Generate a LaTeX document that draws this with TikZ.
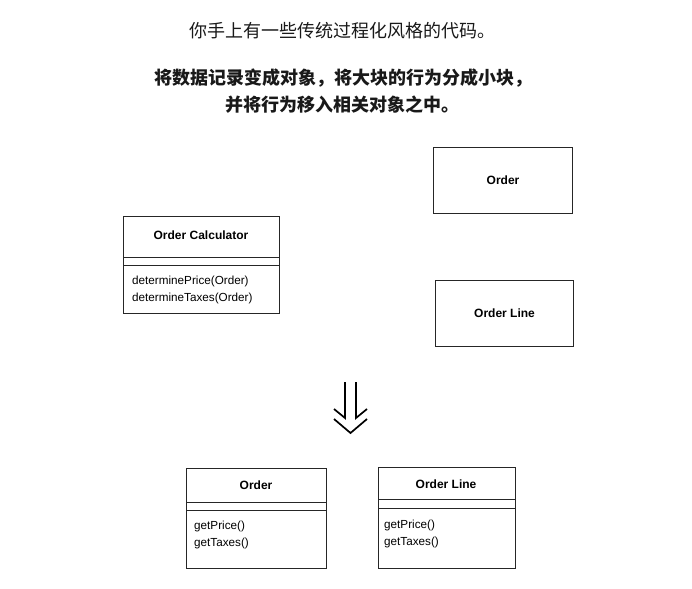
\documentclass[tikz,border=0pt]{standalone}
\usepackage{fontspec}
\setmainfont{Liberation Sans}
\newfontfamily\cjk{Noto Sans CJK SC}
\begin{document}
\begin{tikzpicture}[x=1pt,y=-1pt,
  box/.style={draw=black!85, line width=1pt, inner sep=0pt, anchor=north west},
  sep/.style={draw=black!85, line width=1pt},
  cname/.style={inner sep=0pt, font=\fontsize{12}{14}\selectfont\bfseries, text=black},
  meth/.style={inner sep=0pt, anchor=west, font=\fontsize{11.7}{13}\selectfont, text=black},
  cjkline/.style={inner sep=0pt, font=\fontsize{18}{20}\selectfont\cjk, text=black!90},
  arr/.style={draw=black, line width=1.7pt}]
\useasboundingbox (0,0) rectangle (692,588);
% headings
\node[cjkline] (t1) at (342,31) {你手上有一些传统过程化风格的代码。};
\node[cjkline, font=\fontsize{18}{20}\selectfont\cjk\bfseries] (t2) at (343,78) {将数据记录变成对象，将大块的行为分成小块，};
\node[cjkline, font=\fontsize{18}{20}\selectfont\cjk\bfseries] (t3) at (342,105) {并将行为移入相关对象之中。};
% Order Calculator
\node[box, minimum width=156pt, minimum height=97pt] (calc) at (123,216) {};
\draw[sep] ([yshift=-41pt]calc.north west) -- ([yshift=-41pt]calc.north east);
\draw[sep] ([yshift=-49pt]calc.north west) -- ([yshift=-49pt]calc.north east);
\node[cname] (calcn) at (201,235) {Order Calculator};
\node[meth] (calcm1) at (132,281) {determinePrice(Order)};
\node[meth] (calcm2) at (132,298) {determineTaxes(Order)};
% Order (record)
\node[box, minimum width=139pt, minimum height=66pt] (ord) at (433,147) {};
\node[cname] (ordn) at (ord.center) {Order};
% Order Line (record)
\node[box, minimum width=138pt, minimum height=66pt] (ol) at (435,280) {};
\node[cname] (oln) at (ol.center) {Order Line};
% arrow
\coordinate (a1) at (345,382);
\coordinate (a2) at (345,418);
\coordinate (a3) at (356,382);
\coordinate (a4) at (356,418);
\draw[arr] (a1) -- (a2) -- (334,409);
\draw[arr] (a3) -- (a4) -- (367,409);
\draw[arr, line join=miter] (334,419) -- (350.5,433) -- (367,419);
% Order (class)
\node[box, minimum width=140pt, minimum height=100pt] (ord2) at (186,468) {};
\draw[sep] ([yshift=-34pt]ord2.north west) -- ([yshift=-34pt]ord2.north east);
\draw[sep] ([yshift=-42pt]ord2.north west) -- ([yshift=-42pt]ord2.north east);
\node[cname] (ord2n) at (256,485) {Order};
\node[meth] (ord2m1) at (194,526) {getPrice()};
\node[meth] (ord2m2) at (194,543) {getTaxes()};
% Order Line (class)
\node[box, minimum width=137pt, minimum height=101pt] (ol2) at (378,467) {};
\draw[sep] ([yshift=-32pt]ol2.north west) -- ([yshift=-32pt]ol2.north east);
\draw[sep] ([yshift=-41pt]ol2.north west) -- ([yshift=-41pt]ol2.north east);
\node[cname] (ol2n) at (446,484) {Order Line};
\node[meth] (ol2m1) at (384,525) {getPrice()};
\node[meth] (ol2m2) at (384,542) {getTaxes()};
\end{tikzpicture}
\end{document}
